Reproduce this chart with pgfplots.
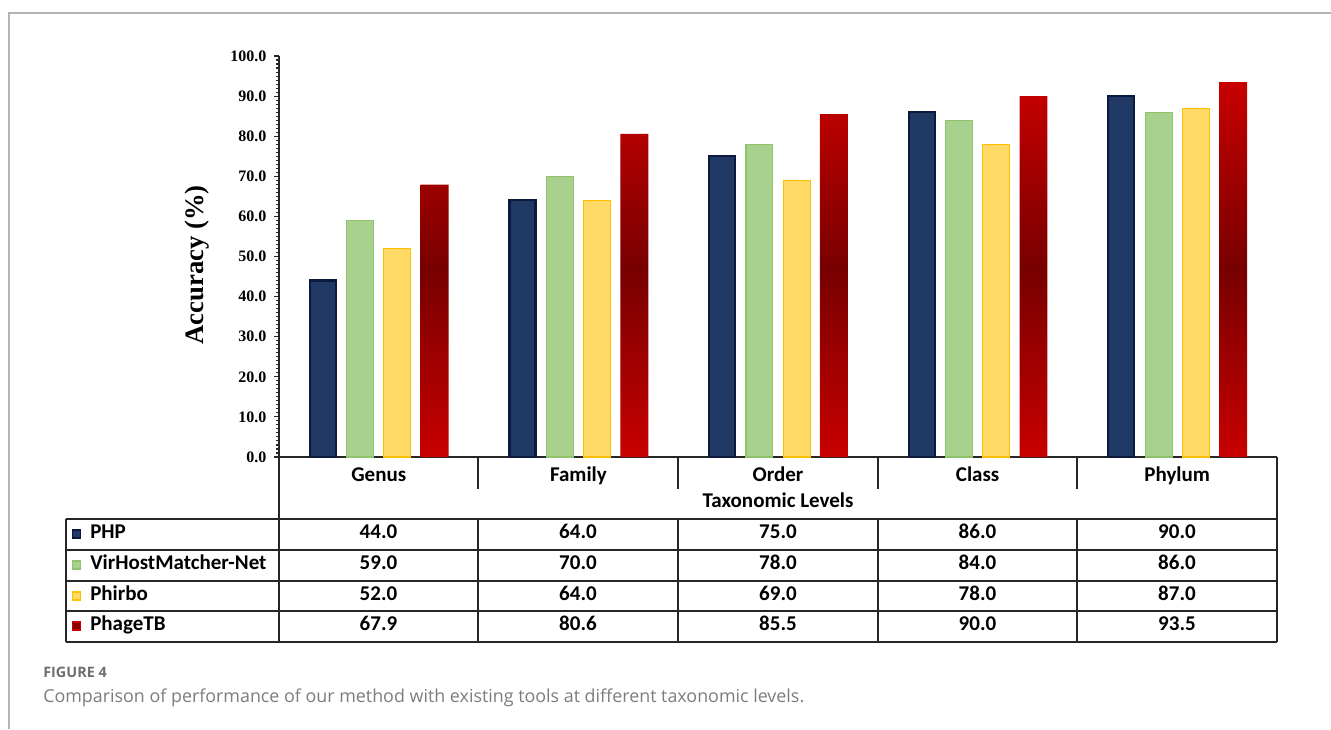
\documentclass[border=0pt]{standalone}
\usepackage{pgfplots}
\pgfplotsset{compat=1.18}
\usepackage{fontspec}
\setmainfont{Liberation Serif}
\newfontfamily\calfont{Carlito}
\newfontfamily\capfont{Open Sans}
\definecolor{phpfill}{HTML}{203864}
\definecolor{phpdraw}{HTML}{0B1A3C}
\definecolor{vhmfill}{HTML}{A9D18E}
\definecolor{vhmdraw}{HTML}{8DC36B}
\definecolor{phifill}{HTML}{FFD966}
\definecolor{phidraw}{HTML}{FFC000}
\definecolor{ptbred}{HTML}{C80000}
\definecolor{ptbdark}{HTML}{780000}
\definecolor{framegray}{HTML}{B4B4B4}
\definecolor{capgray}{HTML}{6E6E6E}
\definecolor{linegray}{HTML}{262626}
\begin{document}
\begin{tikzpicture}
\begin{axis}[
  scale only axis, width=748.5pt, height=300.75pt,
  at={(209.25pt,204pt)}, anchor=south west,
  xmin=-0.5, xmax=4.5, ymin=0, ymax=100,
  axis lines=left,
  axis line style={-, draw=linegray, line width=1.1pt},
  xtick={0,1,2,3,4},
  xticklabels={Genus,Family,Order,Class,Phylum},
  xtick style={draw=none},
  xticklabel style={font=\calfont\bfseries\fontsize{15.75}{16}\selectfont, anchor=center, text height=0.64em, text depth=0pt, inner sep=0pt, yshift=-12pt},
  ytick={0,10,...,100},
  minor y tick num=9,
  tick align=outside,
  major tick length=3.5pt,
  minor tick length=2pt,
  ytick style={draw=linegray, line width=0.8pt},
  minor tick style={draw=linegray, line width=0.6pt},
  yticklabel style={font=\bfseries\fontsize{12}{12}\selectfont, xshift=-2.5pt, /pgf/number format/.cd, fixed, fixed zerofill, precision=1, assume math mode=true},
  ylabel={Accuracy (\%)},
  every axis y label/.style={at={(axis description cs:-0.082,0.479)}, rotate=90, anchor=center, font=\bfseries\fontsize{20}{20}\selectfont},
  clip=false,
]
\addplot[ybar, bar width=0.13, bar shift=-0.28, fill=phpfill, draw=phpdraw, line width=1.6pt]
  coordinates {(0,44.0) (1,64.0) (2,75.0) (3,86.0) (4,90.0)};
\addplot[ybar, bar width=0.135, bar shift=-0.093, fill=vhmfill, draw=vhmdraw, line width=0.8pt]
  coordinates {(0,59.0) (1,70.0) (2,78.0) (3,84.0) (4,86.0)};
\addplot[ybar, bar width=0.135, bar shift=0.093, fill=phifill, draw=phidraw, line width=0.8pt]
  coordinates {(0,52.0) (1,64.0) (2,69.0) (3,78.0) (4,87.0)};
\addplot[ybar, bar width=0.14, bar shift=0.28, draw=none, top color=ptbred, bottom color=ptbred, middle color=ptbdark]
  coordinates {(0,67.9) (1,80.6) (2,85.5) (3,90.0) (4,93.5)};
\end{axis}
\begin{scope}[x=0.75pt, y=-0.75pt, yshift=546.75pt,
  tl/.style={draw=linegray, line width=1.1pt},
  tt/.style={font=\calfont\bfseries\fontsize{15.75}{16}\selectfont, text height=0.64em, text depth=0pt, inner sep=0pt}]
  % frame
  \draw[framegray, line width=1.1pt] (9,729) -- (9,13) -- (1331,13);
  % separators under axis
  \foreach \x in {478,678,878,1077} {\draw[tl] (\x,457) -- (\x,489);}
  \draw[tl] (279,457) -- (279,642);
  \draw[tl] (1277,457) -- (1277,642);
  \node[tt] at (778,503) {Taxonomic Levels};
  % table grid
  \foreach \y in {519,550,581,611,642} {\draw[tl] (66,\y) -- (1277,\y);}
  \draw[tl] (66,519) -- (66,642);
  \foreach \x in {478,678,878,1077} {\draw[tl] (\x,519) -- (\x,642);}
  % legend keys
  \filldraw[fill=phpfill, draw=phpdraw, line width=0.8pt] (72.5,530) rectangle (80.5,538);
  \filldraw[fill=vhmfill, draw=vhmdraw, line width=0.8pt] (72.5,561) rectangle (80.5,569);
  \filldraw[fill=phifill, draw=phidraw, line width=0.8pt] (72.5,592) rectangle (80.5,600);
  \filldraw[fill=ptbdark!80!ptbred, draw=ptbred, line width=0.8pt] (72.5,622) rectangle (80.5,630);
  \node[tt, anchor=west] at (90,534.5) {PHP};
  \node[tt, anchor=west] at (90,565.5) {VirHostMatcher-Net};
  \node[tt, anchor=west] at (90,596) {Phirbo};
  \node[tt, anchor=west] at (90,626.5) {PhageTB};
  % values
  \foreach \c/\a/\b/\cc/\d in {378.5/44.0/59.0/52.0/67.9, 578/64.0/70.0/64.0/80.6, 778/75.0/78.0/69.0/85.5, 977.5/86.0/84.0/78.0/90.0, 1177/90.0/86.0/87.0/93.5} {
    \node[tt] at (\c,534.5) {\a};
    \node[tt] at (\c,565.5) {\b};
    \node[tt] at (\c,596) {\cc};
    \node[tt] at (\c,626.5) {\d};
  }
  % caption
  \node[anchor=base west, inner sep=0pt, text=capgray, font=\capfont\bfseries\fontsize{10.8}{11}\selectfont] at (43,677) {FIGURE 4};
  \node[anchor=base west, inner sep=0pt, text=capgray!90, font=\capfont\fontsize{13.4}{14}\selectfont] at (43,702) {Comparison of performance of our method with existing tools at different taxonomic levels.};
  \pgfresetboundingbox
  \path (0,0) rectangle (1331,729);
\end{scope}
\end{tikzpicture}
\end{document}
